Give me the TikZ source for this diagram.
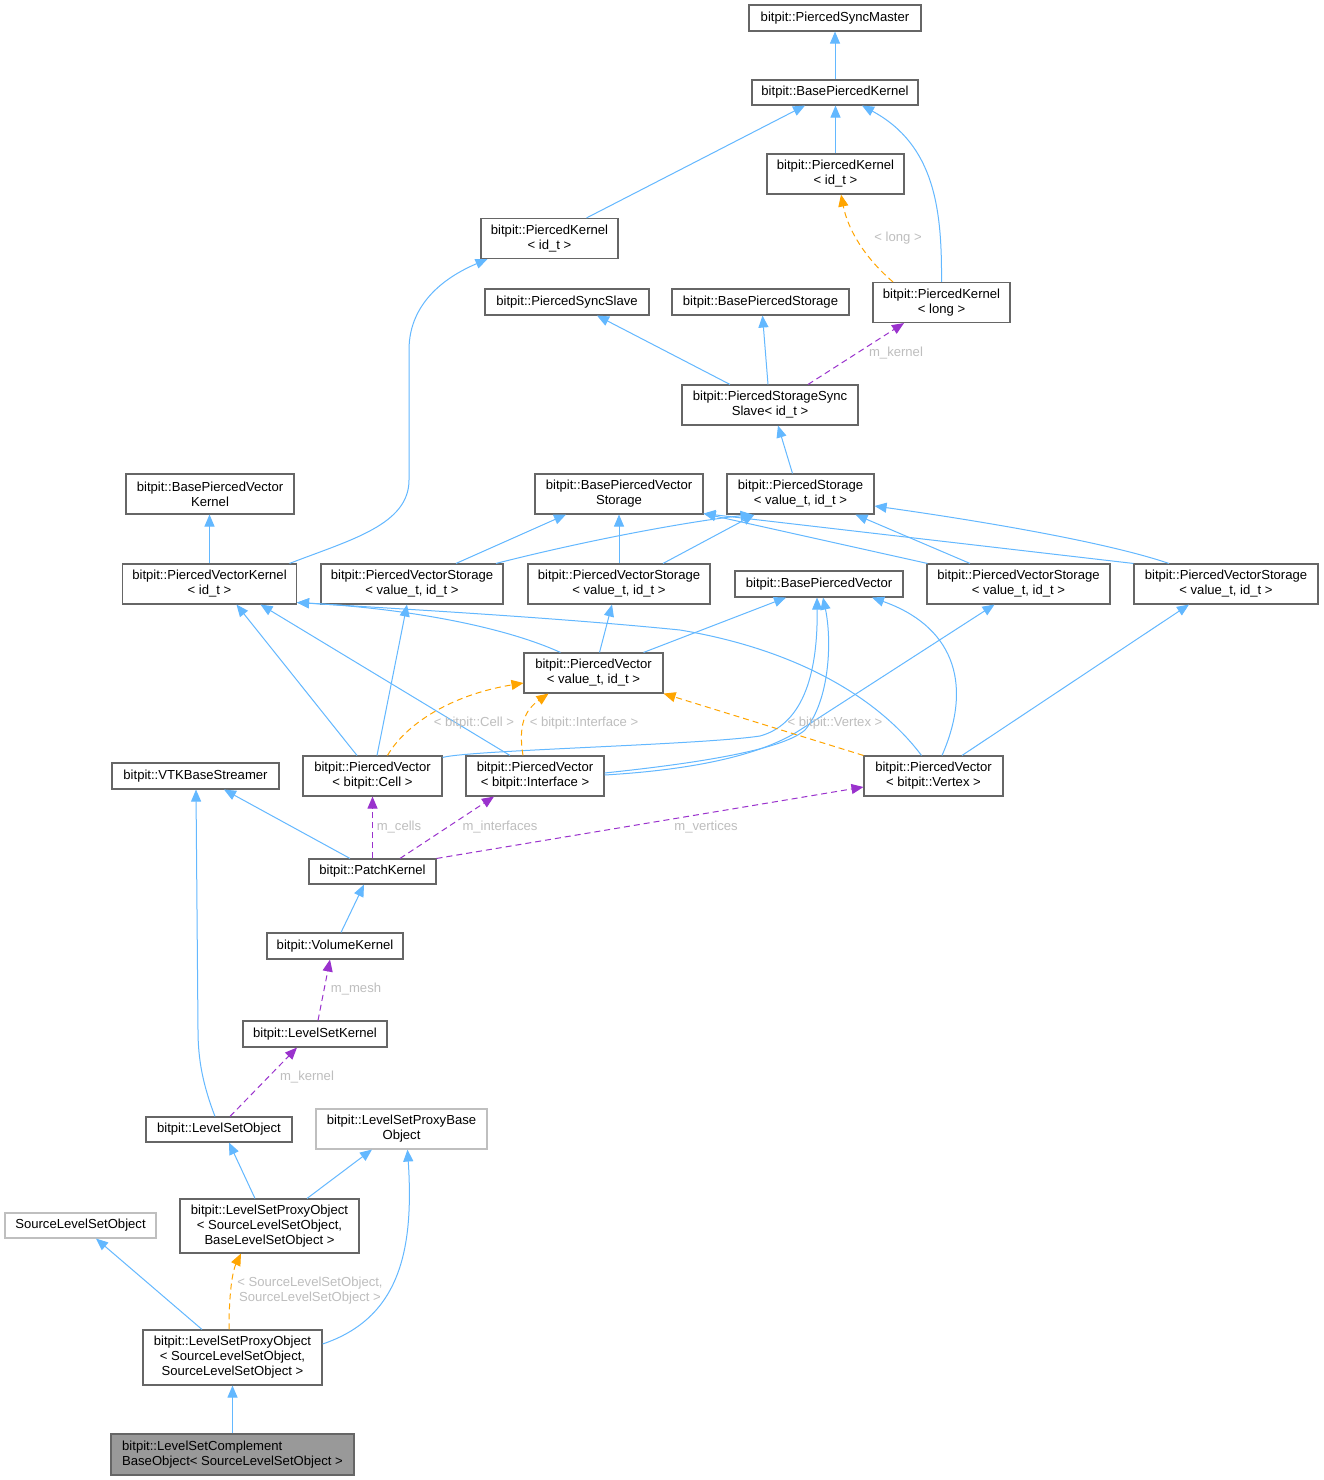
\documentclass[tikz,border=0pt]{standalone}
\usepackage{fontspec}
\setmainfont{Liberation Sans}
\usetikzlibrary{arrows.meta}
\definecolor{inhblue}{HTML}{63B8FF}
\definecolor{tmplorange}{HTML}{FFA500}
\definecolor{usepurple}{HTML}{9A32CD}
\definecolor{boxgray}{HTML}{666666}
\definecolor{lightbox}{HTML}{BFBFBF}
\definecolor{fillgray}{HTML}{999999}
\definecolor{labelgray}{HTML}{BEBEBE}
\newcommand{\nfont}{\fontsize{13.1pt}{15pt}\selectfont}
\begin{document}
\begin{tikzpicture}[x=1pt,y=-1pt,
 box/.style={draw=boxgray, line width=1.1pt, fill=white, inner sep=0pt, align=center, font=\nfont, text=black},
 lbox/.style={box, draw=lightbox},
 hbox/.style={box, fill=fillgray},
 tip/.style={-{Triangle[length=12pt,width=10pt]}},
 inh/.style={tip, draw=inhblue, line width=1pt},
 tmpl/.style={tip, draw=tmplorange, line width=1pt, dash pattern=on 6pt off 4pt},
 usage/.style={tip, draw=usepurple, line width=1pt, dash pattern=on 6pt off 4pt},
 elabel/.style={font=\nfont, text=labelgray, inner sep=0pt, align=center}]
\fill[white] (0,0) rectangle (1323,1480);
\useasboundingbox (0,0) rectangle (1323,1480);

% nodes
\node[box, minimum width=172pt, minimum height=26pt] (psm) at (835,18) {bitpit::PiercedSyncMaster};
\node[box, minimum width=166pt, minimum height=25pt] (bpk) at (835,92.5) {bitpit::BasePiercedKernel};
\node[box, minimum width=137pt, minimum height=40pt] (pkr) at (835.5,174) {bitpit::PiercedKernel\\< id\_t >};
\node[box, minimum width=137pt, minimum height=40pt] (pkl) at (549.5,238.5) {bitpit::PiercedKernel\\< id\_t >};
\node[box, minimum width=137pt, minimum height=40pt] (pklong) at (941.5,302.5) {bitpit::PiercedKernel\\< long >};
\node[box, minimum width=164pt, minimum height=26pt] (pss) at (567,302) {bitpit::PiercedSyncSlave};
\node[box, minimum width=177pt, minimum height=26pt] (bps) at (760.5,302) {bitpit::BasePiercedStorage};
\node[box, minimum width=176pt, minimum height=40pt] (psss) at (770,405) {bitpit::PiercedStorageSync\\Slave< id\_t >};
\node[box, minimum width=168pt, minimum height=40pt] (bpvk) at (210,494) {bitpit::BasePiercedVector\\Kernel};
\node[box, minimum width=168pt, minimum height=40pt] (bpvs) at (619,494) {bitpit::BasePiercedVector\\Storage};
\node[box, minimum width=147pt, minimum height=40pt] (ps) at (800.5,494) {bitpit::PiercedStorage\\< value\_t, id\_t >};
\node[box, minimum width=174pt, minimum height=40pt] (pvk) at (209.5,584) {bitpit::PiercedVectorKernel\\< id\_t >};
\node[box, minimum width=182pt, minimum height=40pt] (pvsa) at (412,584) {bitpit::PiercedVectorStorage\\< value\_t, id\_t >};
\node[box, minimum width=182pt, minimum height=40pt] (pvsb) at (619,584) {bitpit::PiercedVectorStorage\\< value\_t, id\_t >};
\node[box, minimum width=168pt, minimum height=26pt] (bpv) at (819,584) {bitpit::BasePiercedVector};
\node[box, minimum width=183pt, minimum height=40pt] (pvsc) at (1018.5,584) {bitpit::PiercedVectorStorage\\< value\_t, id\_t >};
\node[box, minimum width=184pt, minimum height=40pt] (pvsd) at (1226,584) {bitpit::PiercedVectorStorage\\< value\_t, id\_t >};
\node[box, minimum width=139pt, minimum height=40pt] (pv) at (593.5,673) {bitpit::PiercedVector\\< value\_t, id\_t >};
\node[box, minimum width=139pt, minimum height=40pt] (pvcell) at (372.5,776) {bitpit::PiercedVector\\< bitpit::Cell >};
\node[box, minimum width=138pt, minimum height=40pt] (pvint) at (535,776) {bitpit::PiercedVector\\< bitpit::Interface >};
\node[box, minimum width=139pt, minimum height=40pt] (pvvert) at (933.5,776) {bitpit::PiercedVector\\< bitpit::Vertex >};
\node[box, minimum width=167pt, minimum height=26pt] (vtk) at (195.5,776) {bitpit::VTKBaseStreamer};
\node[box, minimum width=127pt, minimum height=25pt] (patchk) at (372.5,871.5) {bitpit::PatchKernel};
\node[box, minimum width=136pt, minimum height=26pt] (volk) at (335,946) {bitpit::VolumeKernel};
\node[box, minimum width=144pt, minimum height=26pt] (lsk) at (315,1034) {bitpit::LevelSetKernel};
\node[box, minimum width=146pt, minimum height=25pt] (lso) at (219,1129.5) {bitpit::LevelSetObject};
\node[lbox, minimum width=171pt, minimum height=40pt] (lspbo) at (401.5,1129) {bitpit::LevelSetProxyBase\\Object};
\node[lbox, minimum width=151pt, minimum height=25pt] (slso) at (80.5,1225.5) {SourceLevelSetObject};
\node[box, minimum width=179pt, minimum height=54pt] (lspoa) at (269.5,1226) {bitpit::LevelSetProxyObject\\< SourceLevelSetObject,\\ BaseLevelSetObject >};
\node[box, minimum width=179pt, minimum height=55pt] (lspob) at (232.5,1357.5) {bitpit::LevelSetProxyObject\\< SourceLevelSetObject,\\ SourceLevelSetObject >};
\node[hbox, minimum width=243pt, minimum height=41pt, align=left] (lscbo) at (232.5,1454.5) {bitpit::LevelSetComplement\\BaseObject< SourceLevelSetObject >};

% inheritance edges (blue)
\draw[inh] (bpk.north) -- (psm.south);
\draw[inh] (pkr.north) -- (pkr.north |- bpk.south);
\draw[inh] ([xshift=37pt]pkl.north) -- ([xshift=-30pt]bpk.south);
\draw[inh] (pklong.north) .. controls (942,210) and (935,145) .. ([xshift=27pt]bpk.south);
\draw[inh] ([xshift=80pt]pvk.north) .. controls (350,540) and (409,525) .. (409,480) -- (409,350) .. controls (409,300) and (450,275) .. ([xshift=-62pt]pkl.south);
\draw[inh] ([xshift=-40pt]psss.north) -- ([xshift=30pt]pss.south);
\draw[inh] ([xshift=-2pt]psss.north) -- ([xshift=2pt]bps.south);
\draw[inh] ([xshift=-8pt]ps.north) -- ([xshift=8pt]psss.south);
\draw[inh] (pvk.north) -- (pvk.north |- bpvk.south);
\draw[inh] ([xshift=44pt]pvsa.north) -- ([xshift=-53pt]bpvs.south);
\draw[inh] ([xshift=84pt]pvsa.north) .. controls (600,537) and (700,520) .. ([xshift=-48pt]ps.south);
\draw[inh] (pvsb.north) -- (bpvs.south);
\draw[inh] ([xshift=44pt]pvsb.north) -- ([xshift=-46pt]ps.south);
\draw[inh] ([xshift=1pt]pvsc.north west) -- ([yshift=1pt]bpvs.south east);
\draw[inh] (pvsd.north west) -- ([yshift=1pt]bpvs.south east);
\draw[inh] ([xshift=-48.5pt]pvsc.north) -- ([xshift=55pt]ps.south);
\draw[inh] ([xshift=-57pt]pvsd.north) .. controls (1100,540) and (960,518) .. ([yshift=-12pt]ps.east);
\draw[inh] ([xshift=6pt]pv.north) -- ([xshift=-7pt]pvsb.south);
\draw[inh] ([xshift=50pt]pv.north) -- ([xshift=-33pt]bpv.south);
\draw[inh] ([xshift=-33pt]pv.north) .. controls (500,625) and (400,608) .. ([yshift=2pt]pvk.south east);
\draw[inh] ([xshift=-12pt]pvvert.north) .. controls (880,700) and (800,650) .. (680,630) .. controls (560,618) and (420,610) .. ([yshift=2pt]pvk.south east);
\draw[inh] ([xshift=-15.5pt]pvcell.north) -- ([xshift=27pt]pvk.south);
\draw[inh] ([xshift=-25pt]pvint.north) -- ([xshift=51pt]pvk.south);
\draw[inh] ([xshift=4.5pt]pvcell.north) -- ([xshift=-5pt]pvsa.south);
\draw[inh] ([yshift=-2pt]pvcell.north east) .. controls (470,750) and (700,745) .. (760,736) .. controls (800,725) and (818,680) .. ([xshift=-2pt]bpv.south);
\draw[inh] ([yshift=3pt]pvint.east) .. controls (680,765) and (780,752) .. (805,730) .. controls (830,700) and (832,640) .. ([xshift=4pt]bpv.south);
\draw[inh] ([yshift=1pt]pvint.east) .. controls (690,770) and (760,756) .. (800,730) -- ([xshift=-24pt]pvsc.south);
\draw[inh] ([xshift=8.5pt]pvvert.north) .. controls (975,680) and (950,625) .. ([xshift=53pt]bpv.south);
\draw[inh] ([xshift=28.5pt]pvvert.north) -- ([xshift=-37pt]pvsd.south);
\draw[inh] ([xshift=-22.5pt]patchk.north) -- ([xshift=28.5pt]vtk.south);
\draw[inh] ([xshift=-4pt]lso.north) .. controls (203,1085) and (198,1060) .. (198,1030) -- ([xshift=0.5pt]vtk.south);
\draw[inh] ([xshift=6pt]volk.north) -- ([xshift=-8.5pt]patchk.south);
\draw[inh] ([xshift=-14.5pt]lspoa.north) -- ([xshift=10pt]lso.south);
\draw[inh] ([xshift=37.5pt]lspoa.north) -- ([xshift=-29.5pt]lspbo.south);
\draw[inh] ([xshift=-30.5pt]lspob.north) -- ([xshift=15.5pt]slso.south);
\draw[inh] ([yshift=13.5pt]lspob.east) .. controls (400,1318) and (414,1250) .. ([xshift=6pt]lspbo.south);
\draw[inh] (lscbo.north) -- (lspob.south);

% template edges (orange)
\draw[tmpl] ([xshift=-48.5pt]pklong.north) .. controls (865,258) and (848,230) .. ([xshift=5.5pt]pkr.south);
\draw[tmpl] ([xshift=15pt]pvcell.north) .. controls (405,725) and (450,695) .. ([yshift=-10pt]pv.west);
\draw[tmpl] ([xshift=-12pt]pvint.north) .. controls (518,725) and (525,710) .. ([xshift=-45pt]pv.south);
\draw[tmpl] (pvvert.north west) -- (pv.south east);
\draw[tmpl] ([xshift=-3.5pt]lspob.north) .. controls (229,1290) and (233,1270) .. ([xshift=-28.5pt]lspoa.south);

% usage edges (purple)
\draw[usage] ([xshift=38pt]psss.north) -- ([xshift=-37.5pt]pklong.south);
\draw[usage] (patchk.north) -- (pvcell.south);
\draw[usage] ([xshift=27.5pt]patchk.north) -- ([xshift=-41pt]pvint.south);
\draw[usage] (patchk.north east) -- ([yshift=-11pt]pvvert.west);
\draw[usage] ([xshift=3pt]lsk.north) -- ([xshift=-5pt]volk.south);
\draw[usage] ([xshift=11pt]lso.north) -- ([xshift=-18pt]lsk.south);

% edge labels
\node[elabel] (llong) at (898,238) {< long >};
\node[elabel] (lkerna) at (896,353) {m\_kernel};
\node[elabel] (lcell) at (474,723) {< bitpit::Cell >};
\node[elabel] (linter) at (584,723) {< bitpit::Interface >};
\node[elabel] (lvert) at (835,723) {< bitpit::Vertex >};
\node[elabel] (lcells) at (399,827) {m\_cells};
\node[elabel] (linters) at (500,827) {m\_interfaces};
\node[elabel] (lverts) at (706,827) {m\_vertices};
\node[elabel] (lmesh) at (356,989) {m\_mesh};
\node[elabel] (lkernb) at (307,1077) {m\_kernel};
\node[elabel] (lsrc) at (310,1291) {< SourceLevelSetObject,\\SourceLevelSetObject >};
\end{tikzpicture}
\end{document}
